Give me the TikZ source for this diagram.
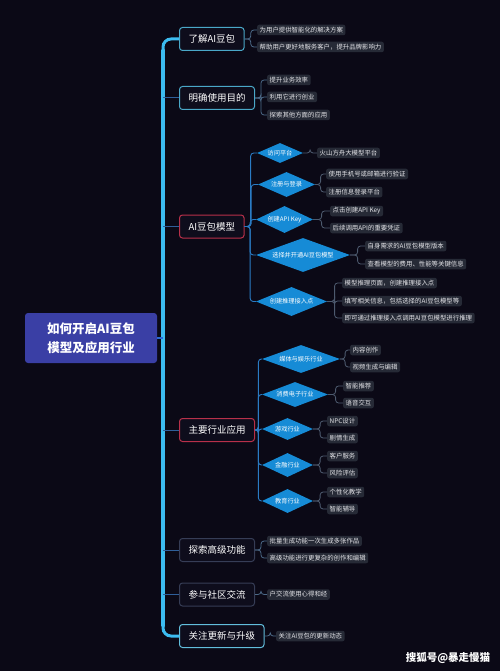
\documentclass[tikz,border=0pt]{standalone}
\usepackage{fontspec}
\setmainfont{Noto Sans CJK SC}
\usetikzlibrary{shapes.geometric,calc}
\definecolor{bgc}{HTML}{0B0916}
\definecolor{rootbg}{HTML}{3A3FA5}
\definecolor{lonebg}{HTML}{0E0D1C}
\definecolor{cyanb}{HTML}{4AA8C8}
\definecolor{cyanc}{HTML}{62BEDC}
\definecolor{redb}{HTML}{B8304A}
\definecolor{grayb}{HTML}{363D56}
\definecolor{leafbg}{HTML}{262A36}
\definecolor{leaftext}{HTML}{E4E4E8}
\definecolor{diabg}{HTML}{168BD6}
\definecolor{trunkA}{HTML}{3CBCF0}
\definecolor{trunkB}{HTML}{2A6AD6}
\definecolor{conna}{HTML}{2F5F9A}
\definecolor{connb}{HTML}{4C6A88}
\definecolor{connc}{HTML}{2A7BC4}
\definecolor{connd}{HTML}{4D5A6E}
\newcommand\mybrk[3]{\draw[#1] (#2.east) -- ($(#2.east)!0.5!(#2.east -| #3.west)$) |- (#3.west);}
\begin{document}
\begin{tikzpicture}[x=1pt,y=-1pt,
  leaf/.style={fill=leafbg, text=leaftext, font=\fontsize{6.4}{7}\selectfont, rounded corners=2pt, inner xsep=2.5pt, inner ysep=0pt, minimum height=10.5pt, anchor=west},
  lone/.style={fill=lonebg, line width=1pt, rounded corners=3pt, text=white, font=\fontsize{9.5}{11}\selectfont, inner xsep=9pt, inner ysep=0pt, minimum height=23pt, anchor=west},
  dia/.style={diamond, aspect=3, fill=diabg, text=white, font=\fontsize{6.2}{7}\selectfont, inner sep=0pt},
  rootbox/.style={fill=rootbg, rounded corners=3pt, text=white, font=\fontsize{12.5}{19}\selectfont\bfseries, align=center, minimum width=132pt, minimum height=50pt},
  c1l/.style={conna, line width=1pt},
  cbr/.style={connb, line width=0.8pt, rounded corners=3pt},
  cdi/.style={connc, line width=0.9pt, rounded corners=3pt},
  cdl/.style={connd, line width=0.8pt, rounded corners=3pt},
  trunkline/.style={trunkA, line width=3pt, rounded corners=8pt}
]
\fill[bgc] (0,0) rectangle (500,671);
\useasboundingbox (0,0) rectangle (500,671);

% root
\node[rootbox] (root) at (91,338) {如何开启AI豆包\\模型及应用行业};
\coordinate (tx) at (163,0);

% level 1
\node[lone, draw=cyanb] (l1) at (179,39) {了解AI豆包};
\node[lone, draw=cyanb] (l2) at (179,98) {明确使用目的};
\node[lone, draw=redb] (l3) at (179,226.5) {AI豆包模型};
\node[lone, draw=redb] (l4) at (179,430) {主要行业应用};
\node[lone, draw=grayb] (l5) at (179,550) {探索高级功能};
\node[lone, draw=grayb] (l6) at (179,594.5) {参与社区交流};
\node[lone, draw=cyanc] (l7) at (179,636) {关注更新与升级};

% trunk
\shade[top color=trunkA, middle color=trunkB, bottom color=trunkA] (161.5,50) rectangle (164.5,626);
\draw[trunkline] ($(l1.west -| tx)+(0,14)$) |- (l1.west);
\draw[trunkline] ($(l7.west -| tx)+(0,-14)$) |- (l7.west);
\draw[trunkB, line width=1.6pt] (root.east) -- (root.east -| tx);
\foreach \n in {l2,l3,l4,l5,l6} {\draw[c1l] (\n.west -| tx) -- (\n.west);}

% leaves of l1, l2
\node[leaf] (a1) at (257,30) {为用户提供智能化的解决方案};
\node[leaf] (a2) at (257,47) {帮助用户更好地服务客户，提升品牌影响力};
\node[leaf] (b1) at (267,80) {提升业务效率};
\node[leaf] (b2) at (267,97) {利用它进行创业};
\node[leaf] (b3) at (267,115) {探索其他方面的应用};
\mybrk{cbr}{l1}{a1}\mybrk{cbr}{l1}{a2}
\mybrk{cbr}{l2}{b1}\mybrk{cbr}{l2}{b2}\mybrk{cbr}{l2}{b3}

% diamonds of l3
\node[dia, minimum width=46pt, minimum height=20pt] (c1) at (280,153) {访问平台};
\node[dia, minimum width=57pt, minimum height=25pt] (c2) at (286.5,184.5) {注册与登录};
\node[dia, minimum width=57pt, minimum height=27pt] (c3) at (284.5,219.5) {创建API Key};
\node[dia, minimum width=94pt, minimum height=34pt] (c4) at (303,255) {选择并开通AI豆包模型};
\node[dia, minimum width=71pt, minimum height=29pt] (c5) at (291.5,301.5) {创建推理接入点};
\foreach \n in {c1,c2,c3,c4,c5} {\mybrk{cdi}{l3}{\n}}

\node[leaf] (c1a) at (317,153) {火山方舟大模型平台};
\node[leaf] (c2a) at (326,174) {使用手机号或邮箱进行验证};
\node[leaf] (c2b) at (326,192) {注册信息登录平台};
\node[leaf] (c3a) at (330,211) {点击创建API Key};
\node[leaf] (c3b) at (330,228) {后续调用API的重要凭证};
\node[leaf] (c4a) at (365,246) {自身需求的AI豆包模型版本};
\node[leaf] (c4b) at (365,264) {查看模型的费用、性能等关键信息};
\node[leaf] (c5a) at (342,283) {模型推理页面，创建推理接入点};
\node[leaf] (c5b) at (342,301) {填写相关信息，包括选择的AI豆包模型等};
\node[leaf] (c5c) at (342,318) {即可通过推理接入点调用AI豆包模型进行推理};
\mybrk{cdl}{c1}{c1a}
\mybrk{cdl}{c2}{c2a}\mybrk{cdl}{c2}{c2b}
\mybrk{cdl}{c3}{c3a}\mybrk{cdl}{c3}{c3b}
\mybrk{cdl}{c4}{c4a}\mybrk{cdl}{c4}{c4b}
\mybrk{cdl}{c5}{c5a}\mybrk{cdl}{c5}{c5b}\mybrk{cdl}{c5}{c5c}

% diamonds of l4
\node[dia, minimum width=78pt, minimum height=28pt] (d1) at (301,359) {媒体与娱乐行业};
\node[dia, minimum width=66pt, minimum height=25pt] (d2) at (295,394.5) {消费电子行业};
\node[dia, minimum width=51pt, minimum height=22pt] (d3) at (287.5,429) {游戏行业};
\node[dia, minimum width=51pt, minimum height=24pt] (d4) at (287.5,465) {金融行业};
\node[dia, minimum width=51pt, minimum height=24pt] (d5) at (287.5,501) {教育行业};
\foreach \n in {d1,d2,d3,d4,d5} {\mybrk{cdi}{l4}{\n}}

\node[leaf] (d1a) at (350,350) {内容创作};
\node[leaf] (d1b) at (350,367) {视频生成与编辑};
\node[leaf] (d2a) at (343,386) {智能推荐};
\node[leaf] (d2b) at (343,403) {语音交互};
\node[leaf] (d3a) at (327,421) {NPC设计};
\node[leaf] (d3b) at (327,438) {剧情生成};
\node[leaf] (d4a) at (327,456) {客户服务};
\node[leaf] (d4b) at (327,473) {风险评估};
\node[leaf] (d5a) at (327,492) {个性化教学};
\node[leaf] (d5b) at (327,509) {智能辅导};
\mybrk{cdl}{d1}{d1a}\mybrk{cdl}{d1}{d1b}
\mybrk{cdl}{d2}{d2a}\mybrk{cdl}{d2}{d2b}
\mybrk{cdl}{d3}{d3a}\mybrk{cdl}{d3}{d3b}
\mybrk{cdl}{d4}{d4a}\mybrk{cdl}{d4}{d4b}
\mybrk{cdl}{d5}{d5a}\mybrk{cdl}{d5}{d5b}

% leaves of l5, l6, l7
\node[leaf] (e1) at (267,541) {批量生成功能一次生成多张作品};
\node[leaf] (e2) at (267,558) {高级功能进行更复杂的创作和编辑};
\node[leaf] (f1) at (267,594.5) {户交流使用心得和经};
\node[leaf] (g1) at (276,636) {关注AI豆包的更新动态};
\mybrk{cbr}{l5}{e1}\mybrk{cbr}{l5}{e2}
\mybrk{cbr}{l6}{f1}
\mybrk{cbr}{l7}{g1}

% watermark
\node[text=white, font=\fontsize{10.5}{12}\selectfont\bfseries] (wm) at (448,658) {搜狐号@暴走慢猫};
\end{tikzpicture}
\end{document}
